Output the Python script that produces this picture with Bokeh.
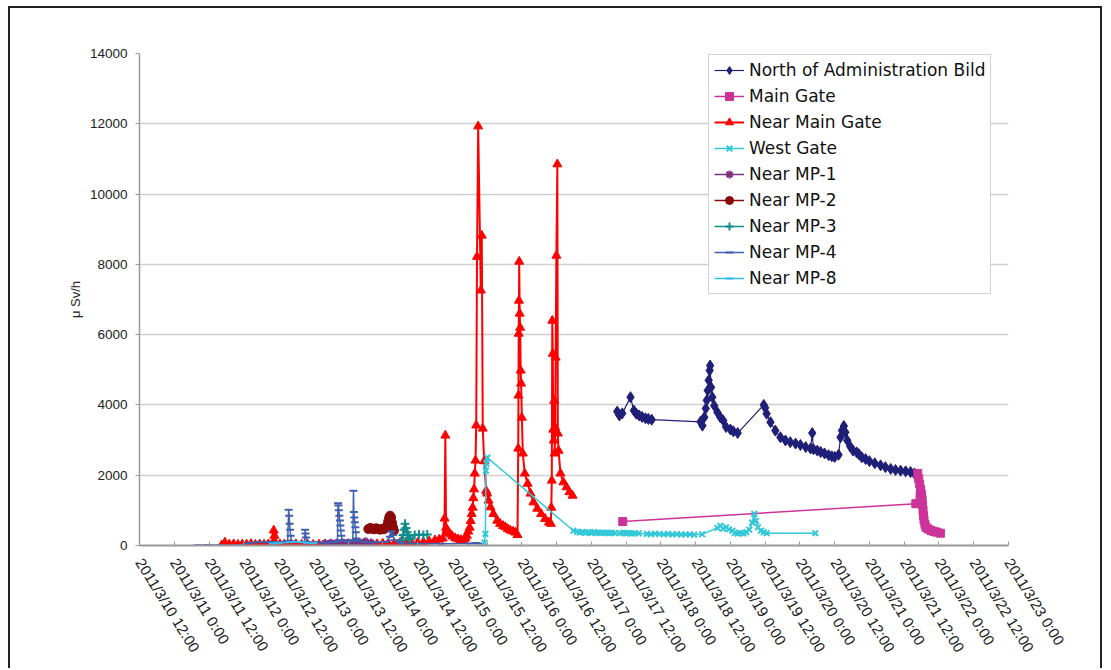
import datetime as dtm
from bokeh.plotting import figure
from bokeh.models import (Range1d, FixedTicker, CustomJSTickFormatter, Legend, LegendItem,
                          ColumnDataSource)
from bokeh.embed import file_html
from bokeh.resources import INLINE

# ---------------- data ----------------
TICK_LABELS = ["2011/3/10 12:00", "2011/3/11 0:00", "2011/3/11 12:00", "2011/3/12 0:00",
               "2011/3/12 12:00", "2011/3/13 0:00", "2011/3/13 12:00", "2011/3/14 0:00",
               "2011/3/14 12:00", "2011/3/15 0:00", "2011/3/15 12:00", "2011/3/16 0:00",
               "2011/3/16 12:00", "2011/3/17 0:00", "2011/3/17 12:00", "2011/3/18 0:00",
               "2011/3/18 12:00", "2011/3/19 0:00", "2011/3/19 12:00", "2011/3/20 0:00",
               "2011/3/20 12:00", "2011/3/21 0:00", "2011/3/21 12:00", "2011/3/22 0:00",
               "2011/3/22 12:00", "2011/3/23 0:00"]
Y_TICKS = [0, 2000, 4000, 6000, 8000, 10000, 12000, 14000]
Y_LABEL = "μ Sv/h"

NAB_T = ["3/17 08:55", "3/17 09:40", "3/17 10:40", "3/17 13:30", "3/17 14:40", "3/17 15:30",
         "3/17 16:30", "3/17 17:30", "3/17 18:40", "3/17 19:40", "3/17 20:50", "3/18 13:40",
         "3/18 14:20", "3/18 15:00", "3/18 15:30", "3/18 15:50", "3/18 16:10", "3/18 16:30",
         "3/18 16:50", "3/18 17:00", "3/18 17:20", "3/18 17:45", "3/18 18:25", "3/18 19:30",
         "3/18 20:30", "3/18 21:30", "3/18 22:30", "3/19 00:00", "3/19 01:00", "3/19 02:30",
         "3/19 11:30", "3/19 12:00", "3/19 12:30", "3/19 13:50", "3/19 15:30", "3/19 17:15",
         "3/19 19:00", "3/19 20:40", "3/19 22:30", "3/20 00:10", "3/20 02:00", "3/20 03:40",
         "3/20 04:15", "3/20 04:40", "3/20 06:00", "3/20 07:10", "3/20 08:30", "3/20 09:55",
         "3/20 11:00", "3/20 12:00", "3/20 13:20", "3/20 14:00", "3/20 14:30", "3/20 15:10",
         "3/20 15:40", "3/20 16:20", "3/20 17:20", "3/20 18:20", "3/20 19:35", "3/20 20:20",
         "3/20 21:20", "3/20 22:40", "3/21 00:00", "3/21 01:50", "3/21 03:50", "3/21 05:30",
         "3/21 07:20", "3/21 09:00", "3/21 10:45", "3/21 12:30", "3/21 14:10", "3/21 15:30",
         "3/21 16:35"]
NAB_V = [3810, 3700, 3760, 4220, 3840, 3750, 3700, 3660, 3620, 3600, 3580, 3520,
         3410, 3650, 3900, 4130, 4410, 4700, 4980, 5120, 4500, 4220, 3980, 3790,
         3650, 3560, 3370, 3300, 3250, 3200, 4000, 3920, 3750, 3510, 3270, 3080,
         2990, 2940, 2900, 2860, 2800, 2760, 3200, 2740, 2700, 2660, 2620, 2570,
         2540, 2520, 2580, 3080, 3270, 3400, 3220, 2990, 2820, 2700, 2650, 2600,
         2510, 2460, 2400, 2340, 2280, 2230, 2180, 2150, 2130, 2110, 2090, 2050,
         1990]

MG_T = ["3/17 10:50", "3/21 16:00", "3/21 16:40", "3/21 17:00", "3/21 17:20", "3/21 17:40",
        "3/21 18:00", "3/21 18:10", "3/21 18:20", "3/21 18:30", "3/21 18:40", "3/21 18:50",
        "3/21 19:10", "3/21 19:30", "3/21 20:15", "3/21 21:15", "3/21 22:15", "3/21 23:15",
        "3/22 00:30"]
MG_V = [680, 1190, 2050, 1900, 1750, 1600, 1450, 1300, 1150, 1000, 850, 720,
        600, 520, 470, 430, 400, 380, 350]

NMG_T = ["3/11 16:20", "3/11 17:30", "3/11 19:00", "3/11 20:30", "3/11 22:00", "3/11 23:30",
         "3/12 01:00", "3/12 02:30", "3/12 04:00", "3/12 05:30", "3/12 07:00", "3/12 08:30",
         "3/12 10:00", "3/12 10:20", "3/12 10:35", "3/12 11:00", "3/12 12:30", "3/12 14:00",
         "3/12 16:00", "3/12 18:00", "3/12 20:00", "3/12 22:00", "3/13 00:00", "3/13 02:00",
         "3/13 04:00", "3/13 06:00", "3/13 08:00", "3/13 10:00", "3/13 12:00", "3/13 14:00",
         "3/13 16:00", "3/13 18:00", "3/13 20:00", "3/13 22:00", "3/14 00:00", "3/14 02:00",
         "3/14 04:00", "3/14 06:00", "3/14 08:00", "3/14 10:00", "3/14 12:00", "3/14 14:00",
         "3/14 16:00", "3/14 18:00", "3/14 19:30", "3/14 20:40", "3/14 21:20", "3/14 21:35",
         "3/14 21:50", "3/14 22:10", "3/14 22:40", "3/14 23:20", "3/15 00:00", "3/15 01:00",
         "3/15 02:00", "3/15 03:00", "3/15 04:00", "3/15 04:30", "3/15 05:00", "3/15 05:30",
         "3/15 06:00", "3/15 06:20", "3/15 06:40", "3/15 07:00", "3/15 07:15", "3/15 07:30",
         "3/15 07:45", "3/15 08:00", "3/15 08:15", "3/15 08:31", "3/15 08:55", "3/15 09:50",
         "3/15 10:10", "3/15 10:30", "3/15 11:00", "3/15 11:40", "3/15 12:00", "3/15 12:30",
         "3/15 13:10", "3/15 14:10", "3/15 15:30", "3/15 16:30", "3/15 17:30", "3/15 18:20",
         "3/15 19:10", "3/15 20:00", "3/15 21:00", "3/15 21:50", "3/15 22:30", "3/15 22:45",
         "3/15 22:50", "3/15 22:55", "3/15 23:00", "3/15 23:05", "3/15 23:15", "3/15 23:25",
         "3/15 23:35", "3/15 23:45", "3/16 00:00", "3/16 00:20", "3/16 01:00", "3/16 02:00",
         "3/16 03:00", "3/16 04:00", "3/16 05:20", "3/16 06:40", "3/16 08:00", "3/16 09:20",
         "3/16 10:00", "3/16 10:10", "3/16 10:20", "3/16 10:30", "3/16 10:40", "3/16 10:50",
         "3/16 11:00", "3/16 11:10", "3/16 11:20", "3/16 11:30", "3/16 11:40", "3/16 11:55",
         "3/16 12:15", "3/16 12:25", "3/16 12:40", "3/16 13:20", "3/16 14:20", "3/16 15:25",
         "3/16 16:25", "3/16 17:30"]
NMG_V = [5, 90, 30, 40, 25, 35,
         30, 45, 25, 35, 30, 40,
         70, 430, 280, 60, 40, 35,
         30, 40, 30, 35, 25, 30,
         40, 35, 30, 40, 35, 30,
         40, 45, 50, 40, 55, 45,
         60, 80, 70, 60, 80, 100,
         120, 150, 170, 200, 770, 3130,
         510, 420, 360, 320, 260, 210,
         180, 160, 170, 210, 280, 400,
         510, 700, 900, 1080, 1350, 1600,
         2050, 2420, 3420, 8217, 11930, 7260,
         8820, 3330, 2400, 1560, 1480, 1280,
         1090, 900, 710, 620, 560, 520,
         470, 430, 400, 370, 300, 2760,
         4270, 6030, 6970, 8080, 6600, 6200,
         4980, 4610, 3640, 2620, 2050, 1760,
         1480, 1230, 1050, 900, 760, 660,
         620, 1080, 1850, 6400, 5460, 3300,
         2990, 4120, 2620, 3360, 5350, 8250,
         10850, 3190, 2700, 2050, 1800, 1660,
         1520, 1420]

WG_T = ["3/15 11:05", "3/15 11:25", "3/15 11:35", "3/15 11:45", "3/15 12:05", "3/16 17:50",
        "3/16 19:00", "3/16 20:00", "3/16 21:00", "3/16 22:00", "3/16 23:00", "3/17 00:00",
        "3/17 01:00", "3/17 02:00", "3/17 03:00", "3/17 04:00", "3/17 05:00", "3/17 06:00",
        "3/17 07:00", "3/17 08:00", "3/17 10:00", "3/17 11:00", "3/17 12:00", "3/17 13:00",
        "3/17 14:00", "3/17 15:00", "3/17 16:20", "3/17 19:10", "3/17 20:30", "3/17 22:00",
        "3/17 23:30", "3/18 01:00", "3/18 02:30", "3/18 04:00", "3/18 05:30", "3/18 07:00",
        "3/18 08:30", "3/18 10:00", "3/18 11:30", "3/18 14:15", "3/18 19:30", "3/18 20:30",
        "3/18 21:30", "3/18 22:30", "3/18 23:30", "3/19 00:40", "3/19 01:30", "3/19 02:30",
        "3/19 03:30", "3/19 04:30", "3/19 05:30", "3/19 06:30", "3/19 07:30", "3/19 08:15",
        "3/19 08:50", "3/19 09:30", "3/19 10:30", "3/19 11:30", "3/19 12:30", "3/20 05:20"]
WG_V = [80, 330, 2130, 2330, 2500, 420,
        390, 370, 385, 360, 375, 360,
        380, 365, 355, 370, 360, 350,
        365, 355, 350, 365, 345, 355,
        340, 350, 345, 330, 320, 335,
        325, 320, 330, 315, 325, 310,
        320, 315, 305, 320, 500, 560,
        480, 520, 460, 420, 360, 340,
        355, 340, 380, 450, 650, 900,
        700, 520, 420, 380, 350, 350]

MP1_T = ["3/13 04:00", "3/13 06:00", "3/13 08:00", "3/13 10:00", "3/13 12:00", "3/13 14:00",
         "3/13 16:00", "3/13 18:00", "3/13 20:00"]
MP1_V = [60, 75, 80, 90, 85, 95, 90, 120, 80]

MP2_T = ["3/13 19:00", "3/13 19:40", "3/13 20:20", "3/13 21:00", "3/13 21:40", "3/13 22:20",
         "3/13 23:00", "3/13 23:40", "3/14 00:20", "3/14 01:00", "3/14 01:30", "3/14 01:50",
         "3/14 02:10", "3/14 02:30", "3/14 02:50", "3/14 03:10", "3/14 03:30", "3/14 03:50"]
MP2_V = [470, 500, 480, 460, 490, 470, 450, 470, 460, 500, 580, 680,
         790, 850, 800, 650, 520, 420]

MP3_T = ["3/14 06:30", "3/14 07:00", "3/14 07:20", "3/14 07:40", "3/14 08:00", "3/14 08:20",
         "3/14 08:40", "3/14 09:00", "3/14 09:30", "3/14 11:00", "3/14 12:30", "3/14 14:00",
         "3/14 15:20"]
MP3_V = [150, 300, 450, 620, 500, 380, 300, 220, 180, 300, 310, 300, 310]

MP4_T = ["3/11 08:00", "3/11 11:50", "3/11 16:00", "3/11 22:00", "3/12 02:00", "3/12 05:00",
         "3/12 08:00", "3/12 11:00", "3/12 14:00", "3/12 15:10", "3/12 15:29", "3/12 15:40",
         "3/12 15:50", "3/12 16:00", "3/12 16:10", "3/12 16:30", "3/12 18:30", "3/12 21:00",
         "3/12 21:10", "3/12 21:20", "3/12 21:30", "3/12 22:00", "3/13 01:00", "3/13 04:00",
         "3/13 07:00", "3/13 08:20", "3/13 08:33", "3/13 08:40", "3/13 08:50", "3/13 09:00",
         "3/13 09:10", "3/13 09:20", "3/13 09:30", "3/13 09:40", "3/13 10:00", "3/13 12:00",
         "3/13 13:40", "3/13 13:52", "3/13 14:00", "3/13 14:10", "3/13 14:20", "3/13 14:30",
         "3/13 14:40", "3/13 14:50", "3/13 15:30", "3/13 18:00", "3/13 22:00", "3/14 01:00",
         "3/14 02:30", "3/14 03:00", "3/14 03:30", "3/14 04:00", "3/14 06:00", "3/14 12:00",
         "3/14 20:00", "3/15 06:00", "3/15 08:00", "3/15 09:00"]
MP4_V = [5, 15, 8, 10, 80, 90,
         95, 100, 90, 120, 1015, 850,
         620, 450, 280, 120, 100, 110,
         450, 340, 230, 100, 90, 80,
         100, 120, 1204, 1140, 1000, 850,
         710, 570, 430, 280, 150, 110,
         140, 1557, 950, 800, 660, 520,
         380, 200, 120, 100, 90, 100,
         250, 400, 300, 150, 80, 60,
         50, 60, 70, 60]

MP8_T = ["3/12 10:00", "3/12 12:00", "3/12 16:00", "3/12 18:00", "3/12 20:00", "3/12 22:00",
         "3/13 00:00"]
MP8_V = [60, 70, 90, 100, 90, 80, 70]

SERIES_NAMES = ["North of Administration Bild", "Main Gate", "Near Main Gate", "West Gate",
                "Near MP-1", "Near MP-2", "Near MP-3", "Near MP-4", "Near MP-8"]

# ---------------- helpers ----------------
EPOCH = dtm.datetime(1970, 1, 1)


def ms_md(s):
    md, hm = s.split()
    m, d = md.split("/")
    h, mi = hm.split(":")
    return (dtm.datetime(2011, int(m), int(d), int(h), int(mi)) - EPOCH).total_seconds() * 1000.0


def ms_label(s):
    ymd, hm = s.split()
    y, m, d = ymd.split("/")
    h, mi = hm.split(":")
    return (dtm.datetime(int(y), int(m), int(d), int(h), int(mi)) - EPOCH).total_seconds() * 1000.0


tick_pos = [ms_label(s) for s in TICK_LABELS]
X0, X1 = tick_pos[0], tick_pos[-1]

p = figure(width=1094, height=662, output_backend="svg", toolbar_location=None,
           x_range=Range1d(X0, X1), y_range=Range1d(0, 14000),
           min_border_left=129, min_border_right=96, min_border_top=45, min_border_bottom=125)
p.styles = {"margin-left": "8px", "margin-top": "6px",
            "border-top": "2px solid #222222", "border-left": "2px solid #222222",
            "border-right": "2px solid #222222"}
p.outline_line_color = None
p.background_fill_color = "white"
p.border_fill_color = "white"

p.xgrid.visible = False
p.ygrid.grid_line_color = "#cfcfcf"
p.ygrid.grid_line_width = 1.3

p.xaxis.ticker = FixedTicker(ticks=tick_pos)
p.xaxis.formatter = CustomJSTickFormatter(args=dict(pos=tick_pos, labels=TICK_LABELS), code="""
for (let i = 0; i < pos.length; i++) { if (Math.abs(pos[i] - tick) < 1000) return labels[i]; }
return "";
""")
p.xaxis.major_label_orientation = -1.015
p.xaxis.major_label_text_font = "Liberation Sans"
p.xaxis.major_label_text_font_size = "15px"
p.xaxis.major_label_text_color = "#222222"
p.xaxis.axis_line_color = "#9a9a9a"
p.xaxis.axis_line_width = 2
p.xaxis.major_tick_line_color = "#9a9a9a"
p.xaxis.major_tick_in = 4
p.xaxis.major_tick_out = 0
p.xaxis.minor_tick_line_color = None
p.xaxis.major_label_standoff = 14

p.yaxis.ticker = FixedTicker(ticks=Y_TICKS)
p.yaxis.major_label_text_font = "Liberation Sans"
p.yaxis.major_label_text_font_size = "13.5px"
p.yaxis.major_label_text_color = "#222222"
p.yaxis.axis_line_color = "#9a9a9a"
p.yaxis.axis_line_width = 1.5
p.yaxis.major_tick_line_color = "#9a9a9a"
p.yaxis.major_tick_in = 0
p.yaxis.major_tick_out = 4
p.yaxis.minor_tick_line_color = None
p.yaxis.major_label_standoff = 8
p.yaxis.axis_label = Y_LABEL
p.yaxis.axis_label_text_font = "Liberation Sans"
p.yaxis.axis_label_text_font_size = "13px"
p.yaxis.axis_label_text_font_style = "normal"
p.yaxis.axis_label_text_color = "#222222"
p.yaxis.axis_label_text_align = "left"
p.yaxis.axis_label_standoff = 4

styles = [
    dict(color="#1F1F78", marker="diamond", size=11, lw=1.2, mlw=1),
    dict(color="#CC3399", marker="square", size=8, lw=1.5, mlw=1),
    dict(color="#FF0000", marker="triangle", size=9, lw=2, mlw=1),
    dict(color="#33C8D8", marker="x", size=8, lw=1.5, mlw=2),
    dict(color="#7F2F7F", marker="asterisk", size=8, lw=1.5, mlw=2),
    dict(color="#8B0A0A", marker="circle", size=9, lw=1.5, mlw=1),
    dict(color="#138C8C", marker="cross", size=9, lw=1.5, mlw=2),
    dict(color="#3F5FB0", marker="dash", size=8, lw=1.5, mlw=2),
    dict(color="#33BBEE", marker="dash", size=8, lw=1.5, mlw=2),
]
data = [(NAB_T, NAB_V), (MG_T, MG_V), (NMG_T, NMG_V), (WG_T, WG_V), (MP1_T, MP1_V),
        (MP2_T, MP2_V), (MP3_T, MP3_V), (MP4_T, MP4_V), (MP8_T, MP8_V)]

items = []
for name, (ts, vs), st in zip(SERIES_NAMES, data, styles):
    src = ColumnDataSource(dict(x=[ms_md(t) for t in ts], y=vs))
    lr = p.line("x", "y", source=src, line_color=st["color"], line_width=st["lw"])
    sr = p.scatter("x", "y", source=src, marker=st["marker"], size=st["size"],
                   line_color=st["color"], fill_color=st["color"], line_width=st["mlw"])
    items.append(LegendItem(label=name, renderers=[lr, sr]))

legend = Legend(items=items, location=(569, 251), orientation="vertical",
                border_line_color="#a8a8a8", border_line_width=1,
                background_fill_color="white", background_fill_alpha=1,
                label_text_font="DejaVu Sans", label_text_font_size="17px",
                label_text_color="#111111",
                glyph_width=30, glyph_height=20, label_height=20, spacing=6,
                padding=5, margin=0, label_standoff=5)
p.add_layout(legend)

open("out.html", "w").write(file_html(p, INLINE))
